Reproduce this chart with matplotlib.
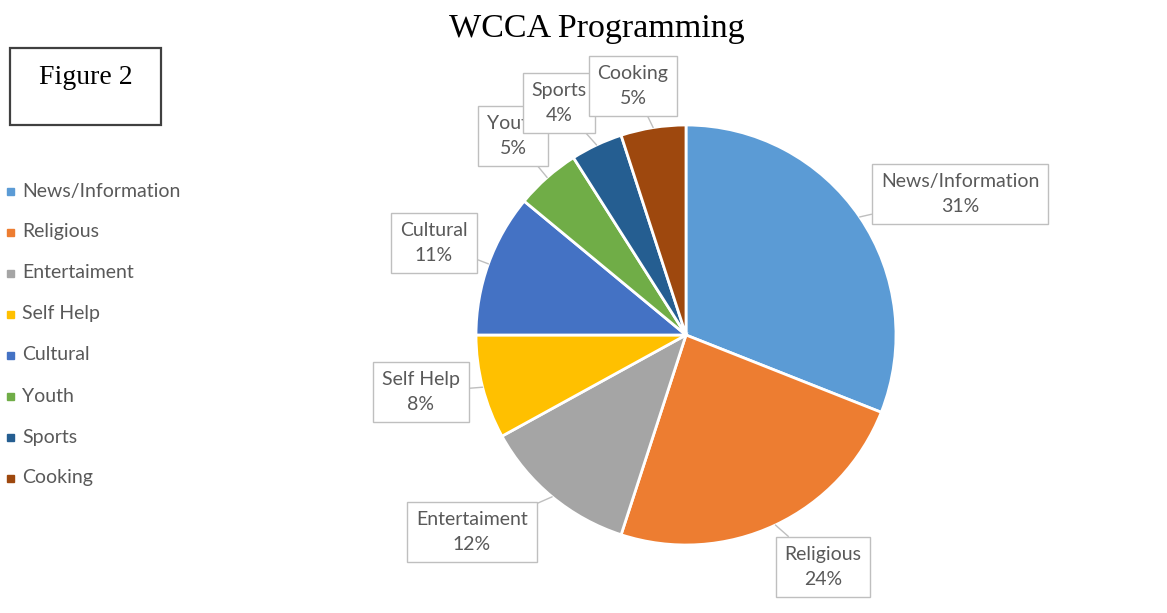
import numpy as np
import matplotlib.pyplot as plt
from matplotlib.patches import Rectangle

categories = ['News/Information', 'Religious', 'Entertaiment', 'Self Help',
              'Cultural', 'Youth', 'Sports', 'Cooking']
shares = [31, 24, 12, 8, 11, 5, 4, 5]
colors = ['#5B9BD5', '#ED7D31', '#A5A5A5', '#FFC000',
          '#4472C4', '#70AD47', '#255E91', '#9E480E']

W, H = 1167, 613
fig = plt.figure(figsize=(W / 100, H / 100), dpi=100)
ax = fig.add_axes([0, 0, 1, 1])

cx, cy, r = 686, 335, 210
# pie in a y-down axes: counterclock=True draws clockwise on screen
wedges, _ = ax.pie(shares, colors=colors, startangle=-90, counterclock=True,
                   center=(cx, cy), radius=r, frame=True,
                   wedgeprops=dict(edgecolor='white', linewidth=2))
ax.set_xlim(0, W)
ax.set_ylim(H, 0)
ax.set_aspect('auto')
ax.axis('off')

txt_col = '#595959'
font = 'Lato'
fs = 14

# title and figure tag
ax.text(597, 29, 'WCCA Programming', ha='center', va='center',
        fontsize=24.5, family='Liberation Serif', color='black')
ax.add_patch(Rectangle((10, 48), 151, 77, fill=False, edgecolor='#404040', linewidth=1.6))
ax.text(86, 78, 'Figure 2', ha='center', va='center', fontsize=20,
        family='Liberation Serif', color='black')

# legend
for i, (name, c) in enumerate(zip(categories, colors)):
    y = 191 + i * 41
    ax.add_patch(Rectangle((7, y - 3.5), 7, 7, color=c))
    ax.text(22, y, name, ha='left', va='center', fontsize=fs, family=font, color=txt_col)

# callout labels: box centre in pixels
label_pos = [(960, 194), (823, 567), (472, 532), (421, 392),
             (434, 243), (513, 136), (559, 103), (633, 86)]

for i, (w, name, val) in enumerate(zip(wedges, categories, shares)):
    ang = np.deg2rad((w.theta1 + w.theta2) / 2)
    px = cx + r * np.cos(ang)
    py = cy + r * np.sin(ang)
    lx, ly = label_pos[i]
    ax.annotate(f'{name}\n{val}%', xy=(px, py), xytext=(lx, ly),
                ha='center', va='center', fontsize=fs, family=font,
                color=txt_col, linespacing=1.62, zorder=5 + i,
                bbox=dict(boxstyle='square,pad=0.45', fc='white', ec='#BFBFBF', lw=1),
                arrowprops=dict(arrowstyle='-', color='#BFBFBF', lw=1,
                                shrinkA=0, shrinkB=0))

fig.savefig('out.png', dpi=100)
